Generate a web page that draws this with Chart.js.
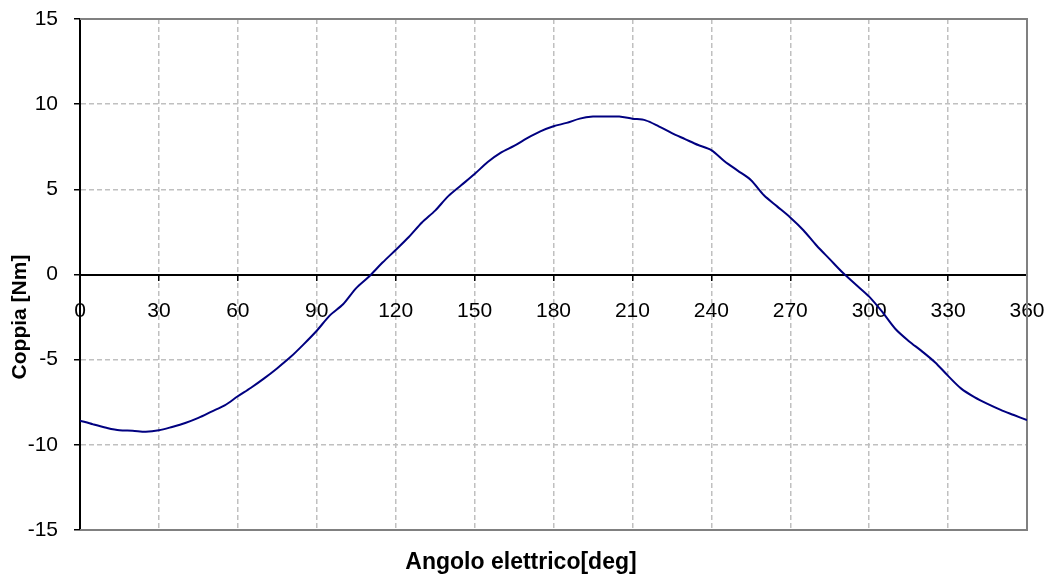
<!DOCTYPE html>
<html>
<head>
<meta charset="utf-8">
<script src="https://cdn.jsdelivr.net/npm/chart.js@4/dist/chart.umd.min.js"></script>
<style>
  html, body { margin: 0; padding: 0; background: #fff; }
  #wrap { width: 1048px; height: 576px; position: relative; }
</style>
</head>
<body>
<div id="wrap"><canvas id="torqueChart"></canvas></div>
<script>
// angle in electrical degrees
const angles = [0, 5, 10, 15, 20, 25, 30, 35, 40, 45, 50, 55, 60, 65, 70, 75, 80, 85, 90, 95,
    100, 105, 110, 115, 120, 125, 130, 135, 140, 145, 150, 155, 160, 165, 170, 175, 180, 185, 190, 195,
    200, 205, 210, 215, 220, 225, 230, 235, 240, 245, 250, 255, 260, 265, 270, 275, 280, 285, 290, 295,
    300, 305, 310, 315, 320, 325, 330, 335, 340, 345, 350, 355, 360];

// torque [Nm]
const torque = [-8.58, -8.80, -9.00, -9.15, -9.17, -9.23, -9.15, -8.95, -8.72, -8.42,
    -8.05, -7.68, -7.15, -6.65, -6.10, -5.50, -4.85, -4.10, -3.30, -2.40,
    -1.75, -0.80, -0.10, 0.70, 1.44, 2.20, 3.05, 3.75, 4.60, 5.25,
    5.90, 6.60, 7.15, 7.55, 8.00, 8.40, 8.70, 8.90, 9.15, 9.27,
    9.28, 9.27, 9.15, 9.05, 8.70, 8.30, 7.95, 7.60, 7.30, 6.65,
    6.10, 5.55, 4.65, 4.00, 3.35, 2.60, 1.70, 0.90, 0.10, -0.60,
    -1.30, -2.20, -3.20, -3.90, -4.50, -5.15, -5.95, -6.70, -7.20, -7.60,
    -7.95, -8.25, -8.55];

const xTicks = [0, 30, 60, 90, 120, 150, 180, 210, 240, 270, 300, 330, 360];
const yTicks = [-15, -10, -5, 0, 5, 10, 15];

const xTitle = 'Angolo elettrico[deg]';
const yTitle = 'Coppia [Nm]';

const fontFamily = '"Liberation Sans", Arial, sans-serif';
const gridGray = '#c0c0c0';
const frameGray = '#808080';

// gray frame on top, right and bottom of the plot area
const framePlugin = {
    id: 'frame',
    beforeDatasetsDraw(chart) {
        const {ctx, chartArea: a} = chart;
        ctx.save();
        ctx.strokeStyle = frameGray;
        ctx.lineWidth = 2;
        ctx.beginPath();
        ctx.moveTo(a.left, a.top);
        ctx.lineTo(a.right, a.top);
        ctx.lineTo(a.right, a.bottom);
        ctx.lineTo(a.left, a.bottom);
        ctx.stroke();
        ctx.restore();
    }
};

// axis titles placed like the original
const titlesPlugin = {
    id: 'titles',
    afterDraw(chart) {
        const {ctx} = chart;
        ctx.save();
        ctx.fillStyle = '#000';
        ctx.textAlign = 'center';
        ctx.textBaseline = 'middle';
        ctx.font = 'bold 23px ' + fontFamily;
        ctx.fillText(xTitle, 521, 563);
        ctx.font = 'bold 21px ' + fontFamily;
        ctx.translate(20, 317);
        ctx.rotate(-Math.PI / 2);
        ctx.fillText(yTitle, 0, 0);
        ctx.restore();
    }
};

// labels may overflow the plot area, like in the original
function noOverflow(s) {
    s.paddingLeft = 0;
    s.paddingRight = 0;
    s.paddingTop = 0;
    s.paddingBottom = 0;
}

const ctx = document.getElementById('torqueChart');

new Chart(ctx, {
    type: 'line',
    data: {
        datasets: [{
            data: angles.map((a, i) => ({ x: a, y: torque[i] })),
            borderColor: '#000080',
            borderWidth: 2,
            pointRadius: 0,
            tension: 0.3,
            fill: false
        }]
    },
    options: {
        responsive: true,
        maintainAspectRatio: false,
        animation: false,
        layout: { padding: { left: 0, right: 21, top: 19, bottom: 46 } },
        plugins: {
            legend: { display: false },
            tooltip: { enabled: false }
        },
        scales: {
            x: {
                type: 'linear',
                min: 0,
                max: 360,
                position: { y: 0 },
                afterBuildTicks: s => { s.ticks = xTicks.map(v => ({ value: v })); },
                afterFit: noOverflow,
                ticks: {
                    color: '#000',
                    font: { size: 21, family: fontFamily },
                    padding: 19,
                    maxRotation: 0,
                    autoSkip: false
                },
                grid: {
                    color: c => (c.tick && (c.tick.value === 0 || c.tick.value === 360)) ? 'rgba(0,0,0,0)' : gridGray,
                    tickColor: '#000',
                    tickLength: 5,
                    lineWidth: 1.5
                },
                border: { color: '#000', width: 2, dash: [5, 3] }
            },
            y: {
                min: -15,
                max: 15,
                position: 'left',
                afterBuildTicks: s => { s.ticks = yTicks.map(v => ({ value: v })); },
                afterFit: s => { noOverflow(s); s.width = 80; },
                ticks: {
                    color: '#000',
                    font: { size: 21, family: fontFamily },
                    padding: 16
                },
                grid: {
                    color: c => (c.tick && Math.abs(c.tick.value) !== 15 && c.tick.value !== 0) ? gridGray : 'rgba(0,0,0,0)',
                    tickColor: '#000',
                    tickLength: 6,
                    lineWidth: 1.5
                },
                border: { color: '#000', width: 2, dash: [5, 3] }
            }
        }
    },
    plugins: [framePlugin, titlesPlugin]
});
</script>
</body>
</html>
